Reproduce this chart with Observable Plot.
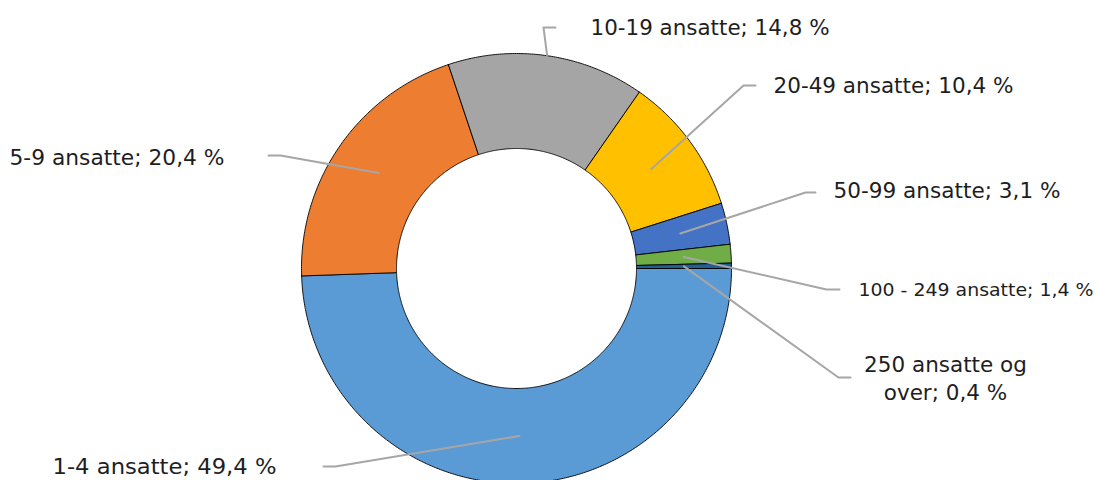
<!DOCTYPE html>
<html><head><meta charset="utf-8">
<script src="https://cdn.jsdelivr.net/npm/d3@7"></script>
<script src="https://cdn.jsdelivr.net/npm/@observablehq/plot@0.6"></script>
<style>body{margin:0;background:#fff} svg{display:block}</style>
</head><body><div id="chart"></div>
<script>
// ---- data ----
const categories = ["1-4 ansatte", "5-9 ansatte", "10-19 ansatte", "20-49 ansatte", "50-99 ansatte", "100 - 249 ansatte", "250 ansatte og over"];
const shares = [49.4, 20.4, 14.8, 10.4, 3.1, 1.4, 0.4];
const labels = ["1-4 ansatte; 49,4 %", "5-9 ansatte; 20,4 %", "10-19 ansatte; 14,8 %", "20-49 ansatte; 10,4 %", "50-99 ansatte; 3,1 %", "100 - 249 ansatte; 1,4 %", "250 ansatte og\nover; 0,4 %"];

// ---- style ----
const colors = ["#5B9BD5", "#ED7D31", "#A5A5A5", "#FFC000", "#4472C4", "#70AD47", "#255E91"];

// ---- layout (offsets from donut centre, px, y up) ----
const W = 1098, H = 480, cx = 516, cy = 268, R = 215, R0 = 120;
const anchorRadius = ["mid", "mid", "outer", "mid", "mid", "mid", "mid"];
const elbows = [[-181, -198], [-236, 113], [27, 241], [227, 183], [289, 76], [310, -21], [322, -109]];
const tails  = [[-193, -198], [-248, 113], [39, 241], [239, 183], [299, 76], [323, -21], [334, -109]];
const textPos = [[-464, -199], [-507, 110], [74, 240], [257, 182], [317, 77], [342, -22], [429, -109]];
const textAnchor = ["start", "start", "start", "start", "start", "start", "middle"];
const textSize = [21.5, 21.5, 21.5, 21.5, 21.5, 18, 21.5];
const textWidth = [224, 215, 239, 240, 227, 235, null];

// ---- geometry from data ----
const rows = categories.map((c, i) => ({cat: c, share: shares[i], label: labels[i], i}));
const arcs = d3.pie().value(d => d.share).sort(null)
  .startAngle(Math.PI / 2).endAngle(Math.PI / 2 + 2 * Math.PI)(rows);

const slicePts = [];
for (const a of arcs) {
  const n = Math.max(2, Math.ceil((a.endAngle - a.startAngle) / (Math.PI / 360)));
  const pts = [];
  for (let k = 0; k <= n; k++) {
    const t = a.startAngle + (a.endAngle - a.startAngle) * k / n;
    pts.push([R * Math.sin(t), R * Math.cos(t)]);
  }
  for (let k = n; k >= 0; k--) {
    const t = a.startAngle + (a.endAngle - a.startAngle) * k / n;
    pts.push([R0 * Math.sin(t), R0 * Math.cos(t)]);
  }
  pts.push(pts[0]);
  for (const p of pts) slicePts.push({cat: a.data.cat, x: p[0], y: p[1]});
}

const leaderPts = [];
arcs.forEach((a, i) => {
  const mid = (a.startAngle + a.endAngle) / 2;
  const rr = anchorRadius[i] === "outer" ? R : (R + R0) / 2;
  leaderPts.push({k: i, x: rr * Math.sin(mid), y: rr * Math.cos(mid)});
  leaderPts.push({k: i, x: elbows[i][0], y: elbows[i][1]});
  leaderPts.push({k: i, x: tails[i][0], y: tails[i][1]});
});

const textRows = rows.map((d, i) => ({label: d.label, x: textPos[i][0], y: textPos[i][1], size: textSize[i], anchor: textAnchor[i]}));

const svg = Plot.plot({
  width: W, height: H, margin: 0,
  x: {domain: [-cx, W - cx], axis: null},
  y: {domain: [cy - H, cy], axis: null},
  color: {domain: categories, range: colors},
  style: {background: "#fff"},
  marks: [
    Plot.line(slicePts, {x: "x", y: "y", z: "cat", fill: "cat", stroke: "#000", strokeWidth: 0.9, strokeLinejoin: "miter"}),
    Plot.line(leaderPts, {x: "x", y: "y", z: "k", stroke: "#A6A6A6", strokeWidth: 2}),
    Plot.text(textRows.filter(d => d.anchor === "start"), {x: "x", y: "y", text: "label", textAnchor: "start", fontSize: d => d.size, fontFamily: "DejaVu Sans", fill: "#1e1e1e"}),
    Plot.text(textRows.filter(d => d.anchor === "middle"), {x: "x", y: "y", text: "label", textAnchor: "middle", fontSize: d => d.size, lineHeight: 1.3, fontFamily: "DejaVu Sans", fill: "#1e1e1e"})
  ]
});

svg.querySelectorAll("text").forEach(t => {
  const idx = labels.indexOf(t.textContent);
  if (idx >= 0 && textWidth[idx]) {
    t.setAttribute("textLength", textWidth[idx]);
    t.setAttribute("lengthAdjust", "spacingAndGlyphs");
  }
});
document.getElementById("chart").appendChild(svg);
</script>
</body></html>
